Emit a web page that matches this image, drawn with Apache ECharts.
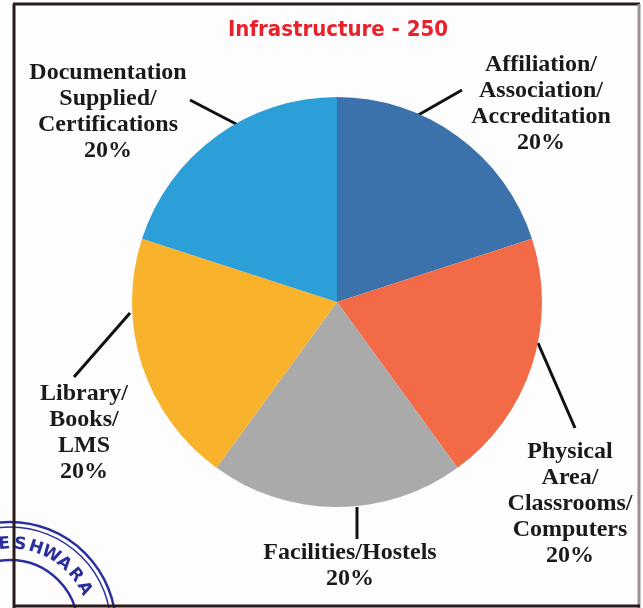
<!DOCTYPE html>
<html>
<head>
<meta charset="utf-8">
<script src="https://cdn.jsdelivr.net/npm/echarts@6/dist/echarts.min.js"></script>
<style>
  html, body { margin: 0; padding: 0; background: #fdfdfd; }
  #chart { width: 643px; height: 608px; }
</style>
</head>
<body>
<div id="chart"></div>
<script>
// data, clockwise from 12 o'clock
const categories = [
  'Affiliation/\nAssociation/\nAccreditation',
  'Physical\nArea/\nClassrooms/\nComputers',
  'Facilities/Hostels',
  'Library/\nBooks/\nLMS',
  'Documentation\nSupplied/\nCertifications'
]
const values = [50, 50, 50, 50, 50]
const colors = ['#3c72ab', '#f36a47', '#aaaaab', '#f8b22c', '#2c9fd8']

// where each label sits and its leader line (layout only)
const labelPos = [
  { x: 541, y: 104, line: [[413, 118], [462, 90]] },
  { x: 570, y: 504, line: [[538, 343], [575, 428]] },
  { x: 350, y: 566, line: [[357, 507], [357, 539]] },
  { x: 84, y: 433, line: [[130, 313], [74, 377]] },
  { x: 108, y: 112, line: [[238, 125], [190, 100]] }
]

// stamp in the lower left corner of the scan
const stampText = 'ESHWARA'
let stamp = [
  { type: 'arc', shape: { cx: 10, cy: 628, r: 106, startAngle: 0, endAngle: Math.PI * 2 }, style: { stroke: '#2b2f9c', fill: null, lineWidth: 2.5 } },
  { type: 'arc', shape: { cx: 10, cy: 628, r: 101, startAngle: 0, endAngle: Math.PI * 2 }, style: { stroke: '#2b2f9c', fill: null, lineWidth: 1.5 } },
  { type: 'arc', shape: { cx: 10, cy: 628, r: 68, startAngle: 0, endAngle: Math.PI * 2 }, style: { stroke: '#2b2f9c', fill: null, lineWidth: 2.5 } }
]
stampText.split('').forEach((ch, i) => {
  let a = (94 - i * 11) * Math.PI / 180
  stamp.push({
    type: 'text',
    x: 10 + 84 * Math.cos(a),
    y: 628 - 84 * Math.sin(a),
    rotation: a - Math.PI / 2,
    style: {
      text: ch,
      fill: '#2b2f9c',
      font: 'bold 17px "DejaVu Sans"',
      align: 'center',
      verticalAlign: 'middle'
    }
  })
})

let chart = echarts.init(document.getElementById('chart'))

let option = {
  backgroundColor: '#fdfdfd',
  animation: false,
  title: {
    text: 'Infrastructure - 250',
    left: 333,
    top: 14,
    textAlign: 'center',
    textStyle: {
      fontFamily: '"DejaVu Sans Condensed", "DejaVu Sans", sans-serif',
      fontSize: 22,
      fontWeight: 'bold',
      color: '#e8212b'
    }
  },
  graphic: [
    { type: 'group', children: stamp, z: 0 },
    { type: 'line', shape: { x1: 14, y1: 4, x2: 14, y2: 608 }, style: { stroke: '#2a1b1b', lineWidth: 3 } },
    { type: 'line', shape: { x1: 13, y1: 4, x2: 640, y2: 4 }, style: { stroke: '#2a1b1b', lineWidth: 3 } },
    { type: 'line', shape: { x1: 639, y1: 4, x2: 639, y2: 608 }, style: { stroke: '#9a8f98', lineWidth: 3 } },
    { type: 'line', shape: { x1: 13, y1: 606, x2: 640, y2: 606 }, style: { stroke: '#2a1b1b', lineWidth: 3 } }
  ],
  series: [
    {
      type: 'pie',
      center: [337, 302],
      radius: 205,
      startAngle: 90,
      clockwise: true,
      color: colors,
      itemStyle: { borderWidth: 0 },
      label: {
        show: true,
        formatter: '{b}\n{d}%',
        fontFamily: 'Liberation Serif',
        fontWeight: 'bold',
        fontSize: 24,
        lineHeight: 26,
        color: '#1a1a1a',
        align: 'center',
        overflow: 'none',
        width: 220
      },
      labelLine: {
        show: true,
        lineStyle: { color: '#111', width: 3 }
      },
      labelLayout: function (params) {
        let p = labelPos[params.dataIndex]
        return {
          x: p.x,
          y: p.y,
          align: 'center',
          verticalAlign: 'middle',
          labelLinePoints: p.line
        }
      },
      data: categories.map((name, i) => ({ name: name, value: values[i] }))
    }
  ]
}

chart.setOption(option)
</script>
</body>
</html>
